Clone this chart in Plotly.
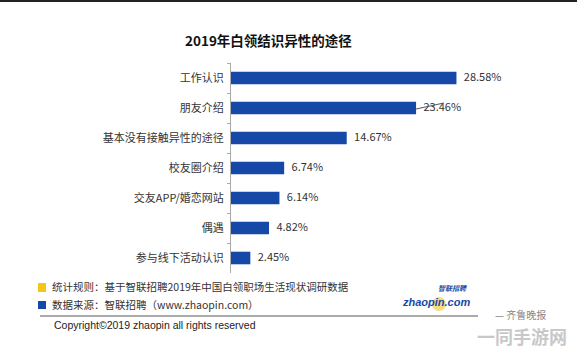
import plotly.graph_objects as go

categories = ["工作认识", "朋友介绍", "基本没有接触异性的途径", "校友圈介绍", "交友APP/婚恋网站", "偶遇", "参与线下活动认识"]
values = [28.58, 23.46, 14.67, 6.74, 6.14, 4.82, 2.45]
value_labels = ["28.58%", "23.46%", "14.67%", "6.74%", "6.14%", "4.82%", "2.45%"]

title_text = "2019年白领结识异性的途径"
note_rule = "统计规则：基于智联招聘2019年中国白领职场生活现状调研数据"
note_source = "数据来源：智联招聘（www.zhaopin.com）"
copyright_text = "Copyright©2019 zhaopin all rights reserved"

W, H = 577, 351
L, R, T, B = 231, 62, 63, 78
FONT = "Noto Sans CJK SC"

def px(x):
    return (x - L) / (W - L - R)

def py(y):
    return 1 - (y - T) / (H - T - B)

fig = go.Figure()
fig.add_trace(go.Bar(
    y=categories, x=values, orientation="h",
    marker=dict(color="#1648a8", line=dict(width=0)),
    width=0.42, hoverinfo="skip",
))
fig.add_trace(go.Scatter(
    y=categories, x=values, mode="text",
    text=["   " + t for t in value_labels], textposition="middle right",
    textfont=dict(size=11, color="#333333", family=FONT),
    cliponaxis=False, hoverinfo="skip",
))

fig.update_layout(
    width=W, height=H,
    margin=dict(l=L, r=R, t=T, b=B),
    plot_bgcolor="white", paper_bgcolor="white",
    showlegend=False,
    font=dict(family=FONT, color="#333333"),
    xaxis=dict(range=[0, 36], visible=False, fixedrange=True),
    yaxis=dict(autorange="reversed", showline=True, linecolor="#aaaaaa", linewidth=1,
               ticks="outside", ticklen=3, tickcolor="#aaaaaa", tickson="boundaries",
               showgrid=False,
               tickfont=dict(size=11, color="#333333", family=FONT), ticklabelstandoff=4),
)

anns = [
    dict(text="<b>" + title_text + "</b>", x=px(268), y=py(40), font=dict(size=13.5, color="#111111")),
    dict(text=note_rule, x=px(50), y=py(286), xanchor="left", font=dict(size=10.5, color="#333333")),
    dict(text=note_source, x=px(50), y=py(304), xanchor="left", font=dict(size=10.5, color="#333333")),
    dict(text=copyright_text, x=px(52), y=py(325), xanchor="left", font=dict(size=10.5, color="#222222", family="Liberation Sans")),
    dict(text="<b><i>zhaopin.com</i></b>", x=px(436), y=py(302), font=dict(size=11, color="#1648a8", family="Liberation Sans")),
    dict(text="<b><i>智联招聘</i></b>", x=px(452), y=py(288), font=dict(size=7, color="#1648a8")),
    dict(text="— 齐鲁晚报", x=px(520), y=py(314), font=dict(size=10, color="#888888")),
    dict(text="<b>一同手游网</b>", x=px(522), y=py(336), font=dict(size=18, color="#c8c8c8")),
]
for a in anns:
    a.update(xref="paper", yref="paper", showarrow=False)
    a.setdefault("xanchor", "center")
    a["yanchor"] = "middle"
    fig.add_annotation(**a)

shapes = [
    dict(type="rect", x0=px(38), x1=px(46), y0=py(292), y1=py(283), fillcolor="#f5c518", line=dict(width=0)),
    dict(type="rect", x0=px(38), x1=px(46), y0=py(309), y1=py(301), fillcolor="#1648a8", line=dict(width=0)),
    dict(type="line", x0=px(40), x1=px(478), y0=py(316), y1=py(316), line=dict(color="#555555", width=1)),
    dict(type="line", x0=px(0), x1=px(577), y0=py(1), y1=py(1), line=dict(color="#222222", width=2)),
    dict(type="circle", x0=px(432), x1=px(446), y0=py(311), y1=py(297), fillcolor="rgba(240,200,40,0.6)", line=dict(width=0), layer="below"),
    # leader line for the 23.46% label
    dict(type="line", xref="x", yref="paper", x0=values[1], x1=values[1] + 3.5, y0=py(109), y1=py(103),
         line=dict(color="#555555", width=1)),
]
for s in shapes:
    s.setdefault("xref", "paper")
    s.setdefault("yref", "paper")
    fig.add_shape(**s)

fig.write_html("out.html")
